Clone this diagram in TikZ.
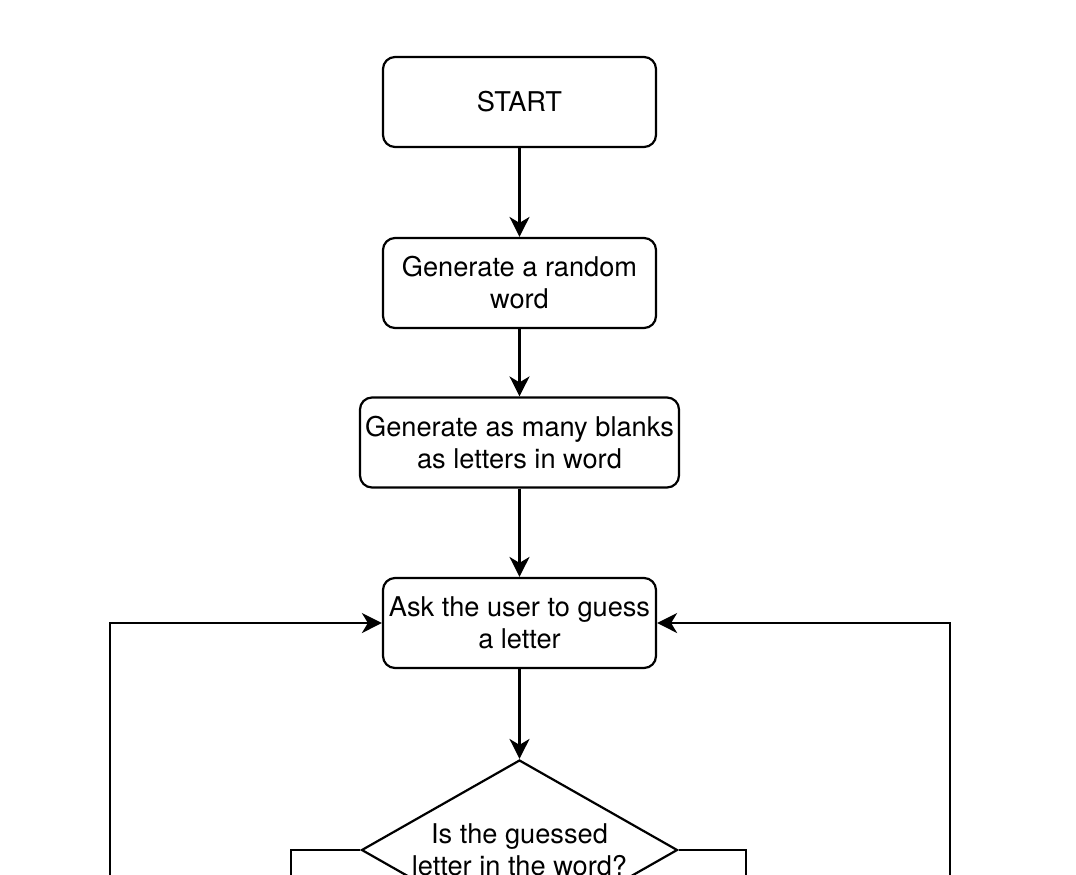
\documentclass[tikz,border=0pt]{standalone}
\usepackage{fontspec}
\setmainfont{TeX Gyre Heros}
\usetikzlibrary{shapes.geometric,arrows.meta}

\begin{document}
\begin{tikzpicture}[x=0.5pt,y=-0.5pt,
    box/.style={draw,line width=1.1pt,rounded corners=6pt,minimum width=136.5pt,minimum height=45pt,
      align=center,inner sep=2pt,font=\fontsize{13.6}{16}\selectfont},
    choice/.style={draw,diamond,line width=1.1pt,minimum width=158pt,minimum height=90pt,inner sep=0pt},
    flow/.style={-{Stealth[length=10pt,width=10pt,inset=3pt]},line width=1.1pt}]
        \useasboundingbox (0,0) rectangle (1076,874);
        \clip (0,0) rectangle (1076,874);
        \fill[white] (0,0) rectangle (1076,874);

        \node[box] (S) at (519.5,102) {START};
        \node[box] (G) at (519.5,283) {Generate a random\\word};
        \node[box,minimum width=159.5pt] (B) at (519.5,442.5) {Generate as many blanks\\as letters in word};
        \node[box] (A) at (519.5,623) {Ask the user to guess\\a letter};
        \node[choice] (Q) at (519.5,850) {};
        \node[align=center,font=\fontsize{13.6}{16}\selectfont] (QT) at (Q) {Is the guessed\\letter in the word?};

        % ends below the cut
        \coordinate (YL) at (291,900);
        \coordinate (YR) at (746,900);
        \coordinate (LL) at (110,900);
        \coordinate (LR) at (950,900);

        \draw[flow] (S) -- (G);
        \draw[flow] (G) -- (B);
        \draw[flow] (B) -- (A);
        \draw[flow] (A) -- (Q);
        \draw[line width=1.1pt] (Q.west) -| (YL);
        \draw[line width=1.1pt] (Q.east) -| (YR);
        \draw[flow] (LL) |- (A.west);
        \draw[flow] (LR) |- (A.east);
    \end{tikzpicture}
\end{document}
